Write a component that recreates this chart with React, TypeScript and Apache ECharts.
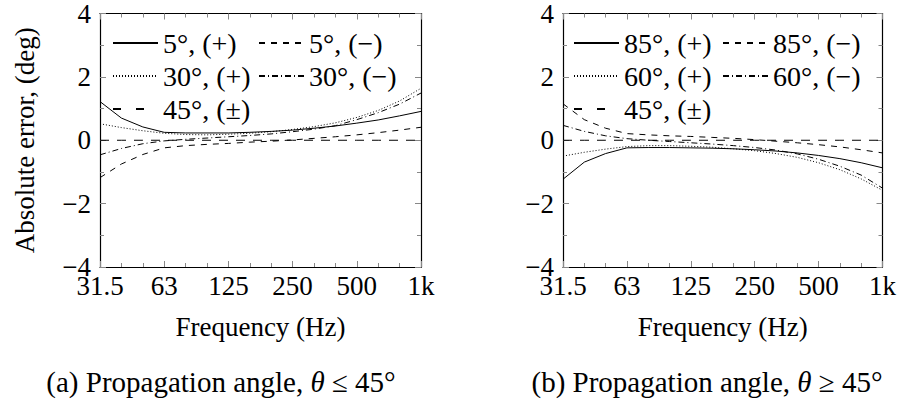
import React, { useEffect, useRef } from "react";
import * as echarts from "echarts";

// third-octave band centres (Hz) at which the errors are plotted
const bands = ["31.5", "40", "50", "63", "80", "100", "125", "160", "200", "250", "315", "400", "500", "630", "800", "1000"];
// octave tick labels
const xTickLabels = ["31.5", "63", "125", "250", "500", "1k"];

// (a) theta <= 45 deg
const low5p = [1.22, 0.7, 0.42, 0.25, 0.23, 0.23, 0.23, 0.25, 0.28, 0.32, 0.38, 0.45, 0.54, 0.64, 0.77, 0.91];
const low5m = [-1.18, -0.75, -0.45, -0.24, -0.17, -0.13, -0.1, -0.06, -0.03, 0.01, 0.06, 0.11, 0.17, 0.24, 0.32, 0.41];
const low30p = [0.52, 0.4, 0.3, 0.22, 0.18, 0.17, 0.19, 0.22, 0.27, 0.34, 0.43, 0.55, 0.72, 0.94, 1.24, 1.64];
const low30m = [-0.46, -0.26, -0.11, -0.02, 0.03, 0.07, 0.11, 0.15, 0.2, 0.27, 0.35, 0.46, 0.65, 0.87, 1.14, 1.49];
const zero45 = [0, 0, 0, 0, 0, 0, 0, 0, 0, 0, 0, 0, 0, 0, 0, 0];

// (b) theta >= 45 deg
const high85p = [-1.23, -0.69, -0.42, -0.24, -0.23, -0.23, -0.24, -0.25, -0.27, -0.3, -0.34, -0.4, -0.48, -0.58, -0.71, -0.87];
const high85m = [1.15, 0.65, 0.38, 0.21, 0.17, 0.14, 0.12, 0.09, 0.06, 0.02, -0.03, -0.08, -0.14, -0.21, -0.3, -0.4];
const high60p = [-0.5, -0.38, -0.28, -0.2, -0.17, -0.17, -0.19, -0.22, -0.27, -0.33, -0.42, -0.54, -0.71, -0.93, -1.22, -1.58];
const high60m = [0.47, 0.28, 0.14, 0.05, 0.0, -0.04, -0.08, -0.12, -0.17, -0.23, -0.31, -0.43, -0.6, -0.82, -1.1, -1.51];

const FONT = "serif";
const FS = 27;

const pair = (vals: number[]) => vals.map((v, i) => [i / 3, v]);

const STY: Record<string, any> = {
  solid: "solid",
  dashed: [6, 6],
  dotted: [1, 2],
  dashdot: [6, 3, 1, 3],
  loose: [9, 8],
};

function mkSeries(name: string, vals: number[], style: string, g: number) {
  return {
    type: "line",
    name,
    data: pair(vals),
    xAxisIndex: g * 2,
    yAxisIndex: g * 2,
    symbol: "none",
    showSymbol: false,
    silent: true,
    lineStyle: { color: "#000", width: 1, type: STY[style] },
    itemStyle: { color: "#000" },
  };
}

function xAxes(g: number) {
  const base = {
    type: "value",
    gridIndex: g,
    min: 0,
    max: 5,
    interval: 1,
    axisLine: { show: true, onZero: false, lineStyle: { color: "#000", width: 1.2 } },
    axisTick: { show: true, inside: true, length: 6, lineStyle: { color: "#888", width: 1 } },
    minorTick: { show: true, splitNumber: 3, length: 4, lineStyle: { color: "#888", width: 1 } },
    splitLine: { show: false },
    minorSplitLine: { show: false },
  };
  return [
    {
      ...base,
      position: "bottom",
      axisLabel: {
        show: true,
        margin: 9,
        color: "#000",
        fontFamily: FONT,
        fontSize: FS,
        lineHeight: 20,
        formatter: (v: number) => xTickLabels[Math.round(v)] ?? "",
      },
      name: "Frequency (Hz)",
      nameLocation: "middle",
      nameGap: 46,
      nameTextStyle: { color: "#000", fontFamily: FONT, fontSize: FS },
    },
    { ...base, position: "top", axisLabel: { show: false } },
  ];
}

function yAxes(g: number, withName: boolean) {
  const base = {
    type: "value",
    gridIndex: g,
    min: -4,
    max: 4,
    interval: 2,
    axisLine: { show: true, onZero: false, lineStyle: { color: "#000", width: 1.2 } },
    axisTick: { show: true, inside: true, length: 6, lineStyle: { color: "#888", width: 1 } },
    minorTick: { show: true, splitNumber: 2, length: 4, lineStyle: { color: "#888", width: 1 } },
    splitLine: { show: false },
    minorSplitLine: { show: false },
  };
  return [
    {
      ...base,
      position: "left",
      axisLabel: {
        show: true,
        margin: 9,
        color: "#000",
        fontFamily: FONT,
        fontSize: FS,
        lineHeight: 16,
        formatter: (v: number) => (v < 0 ? "\u2212" + Math.abs(v) : String(v)),
      },
      name: withName ? "Absolute error, (deg)" : "",
      nameLocation: "middle",
      nameGap: 62,
      nameTextStyle: { color: "#000", fontFamily: FONT, fontSize: FS },
    },
    { ...base, position: "right", axisLabel: { show: false } },
  ];
}

function legendCol(left: number, names: string[], overrides: Record<string, any> = {}) {
  return {
    orient: "vertical",
    left,
    top: 29,
    padding: 0,
    itemGap: 5,
    itemWidth: 45,
    itemHeight: 1,
    selectedMode: false,
    itemStyle: { opacity: 0, color: "rgba(0,0,0,0)", borderWidth: 0 },
    textStyle: { color: "#000", fontFamily: FONT, fontSize: 28, lineHeight: 27 },
    data: names.map((n) => (overrides[n] ? { name: n, ...overrides[n] } : { name: n })),
  };
}

export default function App() {
  const ref = useRef<HTMLDivElement>(null);
  useEffect(() => {
    if (!ref.current) return;
    const chart = echarts.init(ref.current, undefined, { renderer: "svg" });
    const n5p = "5°, (+)";
    const n5m = "5°, (\u2212)";
    const n30p = "30°, (+)";
    const n30m = "30°, (\u2212)";
    const n45 = "45°, (±)";
    const n85p = "85°, (+)";
    const n85m = "85°, (\u2212)";
    const n60p = "60°, (+)";
    const n60m = "60°, (\u2212)";
    const looseLegend = { [n45]: { lineStyle: { type: [8, 15] } } };
    const CFS = 29;
    const cap = (text: string, x: number) => ({
      type: "text",
      x,
      y: 382,
      style: {
        text,
        textAlign: "center",
        textVerticalAlign: "middle",
        fontFamily: FONT,
        fontSize: CFS,
        fill: "#000",
        rich: { i: { fontStyle: "italic", fontFamily: FONT, fontSize: CFS } },
      },
    });
    chart.setOption({
      animation: false,
      backgroundColor: "#fff",
      grid: [
        { left: 100, top: 11, width: 321, height: 256, containLabel: false },
        { left: 563, top: 11, width: 320, height: 256, containLabel: false },
      ],
      xAxis: [...xAxes(0), ...xAxes(1)],
      yAxis: [...yAxes(0, true), ...yAxes(1, false)],
      legend: [
        legendCol(112, [n5p, n30p, n45], looseLegend),
        legendCol(258, [n5m, n30m]),
        legendCol(573, [n85p, n60p, n45], looseLegend),
        legendCol(722, [n85m, n60m]),
      ],
      series: [
        mkSeries(n45, zero45, "loose", 0),
        mkSeries(n5m, low5m, "dashed", 0),
        mkSeries(n30m, low30m, "dashdot", 0),
        mkSeries(n30p, low30p, "dotted", 0),
        mkSeries(n5p, low5p, "solid", 0),
        mkSeries(n45, zero45, "loose", 1),
        mkSeries(n85m, high85m, "dashed", 1),
        mkSeries(n60m, high60m, "dashdot", 1),
        mkSeries(n60p, high60p, "dotted", 1),
        mkSeries(n85p, high85p, "solid", 1),
      ],
      graphic: [
        cap("(a) Propagation angle, {i|θ} ≤ 45°", 221),
        cap("(b) Propagation angle, {i|θ} ≥ 45°", 707),
      ],
    });
    return () => chart.dispose();
  }, []);
  return (
    <div
      ref={ref}
      style={{ position: "fixed", left: 0, top: 0, width: 899, height: 403, background: "#fff" }}
    />
  );
}
